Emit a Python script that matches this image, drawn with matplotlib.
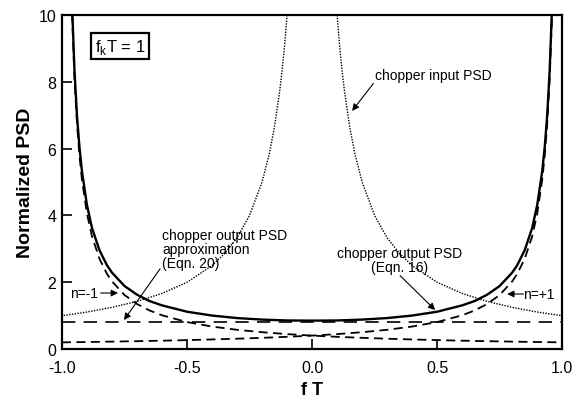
import numpy as np
import matplotlib
matplotlib.use("Agg")
import matplotlib.pyplot as plt

plt.rcParams['font.family'] = ['Liberation Sans', 'DejaVu Sans']

# normalized frequency f*T
fT = [-1.0, -0.99, -0.98, -0.97, -0.96, -0.95, -0.94, -0.93, -0.92, -0.90, -0.88,
      -0.85, -0.82, -0.80, -0.75, -0.70, -0.65, -0.60, -0.50, -0.40, -0.30, -0.20,
      -0.10, 0.0, 0.10, 0.20, 0.30, 0.40, 0.50, 0.60, 0.65, 0.70, 0.75, 0.80, 0.82,
      0.85, 0.88, 0.90, 0.92, 0.93, 0.94, 0.95, 0.96, 0.97, 0.98, 0.99, 1.0]

# chopper output PSD (Eqn. 16)
psd_out = [80.0, 40.8, 20.5, 13.76, 10.38, 8.36, 7.00, 6.04, 5.32, 4.31, 3.63,
           2.96, 2.51, 2.29, 1.89, 1.63, 1.44, 1.31, 1.12, 1.005, 0.930, 0.884,
           0.858, 0.853, 0.858, 0.884, 0.930, 1.005, 1.12, 1.31, 1.44, 1.63, 1.89,
           2.29, 2.51, 2.96, 3.63, 4.31, 5.32, 6.04, 7.00, 8.36, 10.38, 13.76,
           20.5, 40.8, 80.0]

# n = +1 term
psd_np1 = [0.203, 0.204, 0.205, 0.206, 0.207, 0.208, 0.209, 0.210, 0.211, 0.213, 0.216,
           0.219, 0.223, 0.225, 0.232, 0.238, 0.246, 0.253, 0.270, 0.290, 0.312, 0.338,
           0.369, 0.405, 0.450, 0.507, 0.579, 0.676, 0.811, 1.013, 1.158, 1.351, 1.621,
           2.027, 2.252, 2.702, 3.378, 4.053, 5.066, 5.790, 6.755, 8.106, 10.13, 13.51,
           20.27, 40.53, 80.0]

# n = -1 term
psd_nm1 = [80.0, 40.53, 20.27, 13.51, 10.13, 8.106, 6.755, 5.790, 5.066, 4.053, 3.378,
           2.702, 2.252, 2.027, 1.621, 1.351, 1.158, 1.013, 0.811, 0.676, 0.579, 0.507,
           0.450, 0.405, 0.369, 0.338, 0.312, 0.290, 0.270, 0.253, 0.246, 0.238, 0.232,
           0.225, 0.223, 0.219, 0.216, 0.213, 0.211, 0.210, 0.209, 0.208, 0.207, 0.206,
           0.205, 0.204, 0.203]

# chopper input PSD (1/f), one half; the other half is its mirror image
fT_in = [0.10, 0.11, 0.12, 0.13, 0.15, 0.17, 0.20, 0.25, 0.30, 0.35, 0.40, 0.50,
         0.60, 0.70, 0.80, 0.90, 1.0]
psd_in = [10.0, 9.09, 8.33, 7.69, 6.67, 5.88, 5.0, 4.0, 3.33, 2.86, 2.5, 2.0,
          1.667, 1.429, 1.25, 1.111, 1.0]

# approximation (Eqn. 20)
fT_approx = [-1.0, 1.0]
psd_approx = [0.81, 0.81]

fig = plt.figure(figsize=(5.79, 4.10), dpi=100)
ax = fig.add_axes([0.107, 0.146, 0.864, 0.815])

ax.plot(fT, psd_out, 'k-', lw=1.7)
ax.plot(fT, psd_np1, color='k', lw=1.3, linestyle=(0, (5, 3)))
ax.plot(fT, psd_nm1, color='k', lw=1.3, linestyle=(0, (5, 3)))
ax.plot(fT_approx, psd_approx, color='k', lw=1.2, linestyle=(0, (8, 5)))
ax.plot(fT_in, psd_in, color='k', lw=1.0, linestyle=(0, (1, 1)))
ax.plot([-x for x in fT_in], psd_in, color='k', lw=1.0, linestyle=(0, (1, 1)))

ax.set_xlim(-1.0, 1.0)
ax.set_ylim(0, 10)
ax.set_xticks([-1.0, -0.5, 0.0, 0.5, 1.0])
ax.set_xticklabels(['-1.0', '-0.5', '0.0', '0.5', '1.0'])
ax.set_yticks([0, 2, 4, 6, 8, 10])
ax.tick_params(direction='in', length=7, width=1.2, labelsize=11.5, top=False, right=False)
ax.tick_params(axis='x', pad=8)
ax.tick_params(axis='y', pad=4)
for s in ax.spines.values():
    s.set_linewidth(1.6)

ax.set_xlabel('f T', fontsize=13, fontweight='bold', labelpad=4)
ax.set_ylabel('Normalized PSD', fontsize=14, fontweight='bold', labelpad=3)

ax.text(-0.768, 9.07, r'f$_\mathregular{k}$T = 1', fontsize=12, ha='center', va='center',
        bbox=dict(boxstyle='square,pad=0.22', fc='white', ec='black', lw=1.6))

arr = dict(arrowstyle='-|>', color='k', lw=0.8, mutation_scale=10, shrinkA=0, shrinkB=0)
fs = 10

ax.text(0.252, 8.2, 'chopper input PSD', fontsize=fs, ha='left', va='center')
ax.annotate('', xy=(0.16, 7.13), xytext=(0.245, 7.95), arrowprops=arr)

ax.text(-0.6, 3.0, 'chopper output PSD\napproximation\n(Eqn. 20)', fontsize=fs,
        ha='left', va='center', linespacing=1.0)
ax.annotate('', xy=(-0.752, 0.87), xytext=(-0.608, 2.40), arrowprops=arr)

ax.text(0.348, 2.68, 'chopper output PSD\n(Eqn. 16)', fontsize=fs,
        ha='center', va='center', linespacing=1.0)
ax.annotate('', xy=(0.492, 1.17), xytext=(0.352, 2.2), arrowprops=arr)

ax.text(-0.968, 1.68, 'n=-1', fontsize=fs, ha='left', va='center')
ax.annotate('', xy=(-0.776, 1.68), xytext=(-0.845, 1.68), arrowprops=arr)

ax.text(0.845, 1.65, 'n=+1', fontsize=fs, ha='left', va='center')
ax.annotate('', xy=(0.78, 1.65), xytext=(0.845, 1.65), arrowprops=arr)

fig.savefig('out.png', dpi=100)
